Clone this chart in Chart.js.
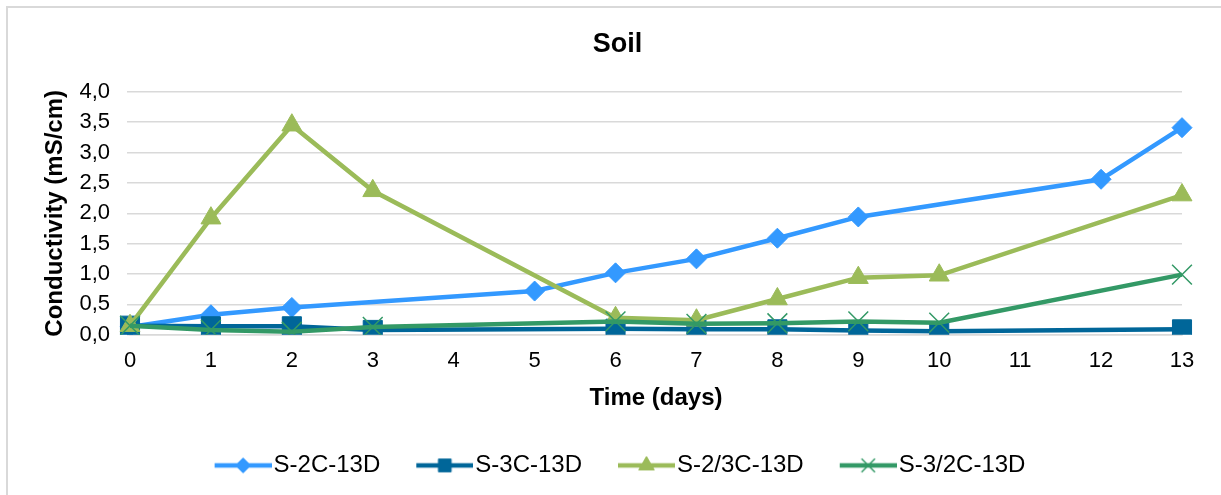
<!DOCTYPE html>
<html>
<head>
<meta charset="utf-8">
<title>Soil</title>
<script src="https://cdn.jsdelivr.net/npm/chart.js@4/dist/chart.umd.min.js"></script>
<style>
  html, body { margin: 0; padding: 0; background: #fff; overflow: hidden; }
  #frame { position: absolute; left: 6px; top: 6px; width: 1240px; height: 520px; border: 2px solid #d9d9d9; }
  #chart { position: absolute; left: 0; top: 0; display: block; }
</style>
</head>
<body>
<div id="frame"></div>
<canvas id="chart" width="1221" height="495"></canvas>
<script>
// Sampling days (category axis)
const days = ['0', '1', '2', '3', '4', '5', '6', '7', '8', '9', '10', '11', '12', '13'];

// Conductivity readings (mS/cm); null = not measured that day
const s2c  = [0.13, 0.33, 0.45, null, null, 0.72, 1.02, 1.25, 1.59, 1.94, null, null, 2.56, 3.41];
const s3c  = [0.15, 0.14, 0.14, 0.08, null, null, 0.10, 0.09, 0.09, 0.07, 0.06, null, null, 0.09];
const s23c = [0.15, 1.92, 3.45, 2.37, null, null, 0.28, 0.24, 0.59, 0.94, 0.98, null, null, 2.30];
const s32c = [0.15, 0.08, 0.05, 0.13, null, null, 0.22, 0.18, 0.19, 0.22, 0.20, null, null, 0.99];

const seriesNames = ['S-2C-13D', 'S-3C-13D', 'S-2/3C-13D', 'S-3/2C-13D'];
const yTickLabels = ['0,0', '0,5', '1,0', '1,5', '2,0', '2,5', '3,0', '3,5', '4,0'];

const FONT = "'Liberation Sans', Arial, sans-serif";
const GRID = '#d9d9d9';

const styles = [
  { color: '#3399FF', point: 'rectRot',  radius: 10,   lw: 1,   legendR: 7.5 },
  { color: '#006699', point: 'rect',     radius: 13.5, lw: 1,   legendR: 9 },
  { color: '#9BBB59', point: 'triangle', radius: 11.5, lw: 1,   legendR: 9 },
  { color: '#339966', point: 'crossRot', radius: 14,   lw: 1.5, legendR: 9.5 }
];

// Legend symbol: a short line with the series marker in its middle,
// drawn in the right part of the canvas so it sits just before the text
const SWATCH_BOX = 73;
function makeSwatch(st) {
  const c = document.createElement('canvas');
  c.width = SWATCH_BOX + 20; c.height = 24;
  const ctx = c.getContext('2d');
  const y = 12, x1 = c.width, x0 = x1 - 57;
  ctx.strokeStyle = st.color;
  ctx.fillStyle = st.color;
  ctx.lineWidth = 4.5;
  ctx.beginPath(); ctx.moveTo(x0, y); ctx.lineTo(x1, y); ctx.stroke();
  ctx.lineWidth = st.lw;
  Chart.helpers.drawPoint(ctx, {
    pointStyle: st.point, radius: st.legendR, rotation: 0, borderWidth: st.lw
  }, (x0 + x1) / 2, y);
  return c;
}

const allSeries = [s2c, s3c, s23c, s32c];
const datasets = allSeries.map((vals, i) => ({
  label: seriesNames[i],
  data: vals,
  borderColor: styles[i].color,
  backgroundColor: styles[i].color,
  borderWidth: 4.5,
  pointStyle: styles[i].point,
  pointRadius: styles[i].radius,
  pointBorderWidth: styles[i].lw,
  pointBackgroundColor: styles[i].color,
  pointBorderColor: styles[i].color,
  spanGaps: true,
  tension: 0,
  order: 4 - i
}));

const legendIcons = styles.map(makeSwatch);

// The swatch's blank left part is counted in the legend row width,
// so nudge the legend box left to centre what is actually visible.
const legendNudge = {
  id: 'legendNudge',
  afterLayout(chart) {
    const lg = chart.legend;
    if (lg) { lg.left -= 10.5; lg.right -= 10.5; }
  }
};

new Chart(document.getElementById('chart'), {
  type: 'line',
  data: { labels: days, datasets: datasets },
  plugins: [legendNudge],
  options: {
    responsive: false,
    animation: false,
    events: [],
    layout: { padding: { left: 41, right: 27, top: 0, bottom: 7.6 } },
    plugins: {
      tooltip: { enabled: false },
      title: {
        display: true,
        text: 'Soil',
        color: '#000',
        font: { family: FONT, size: 27, weight: 'bold' },
        padding: { top: 28.4, bottom: 31 }
      },
      legend: {
        display: true,
        position: 'bottom',
        labels: {
          color: '#000',
          font: { family: FONT, size: 24 },
          usePointStyle: true,
          pointStyleWidth: SWATCH_BOX,
          padding: 10,
          generateLabels: (chart) => chart.data.datasets.map((ds, i) => ({
            text: ds.label,
            pointStyle: legendIcons[i],
            fillStyle: ds.borderColor,
            strokeStyle: ds.borderColor,
            lineWidth: 0,
            hidden: false,
            datasetIndex: i,
            fontColor: '#000'
          }))
        }
      }
    },
    scales: {
      x: {
        offset: false,
        grid: { display: false, drawTicks: false },
        border: { display: true, color: GRID, width: 1.5 },
        ticks: { color: '#000', font: { family: FONT, size: 22 }, padding: 13, maxRotation: 0, autoSkip: false },
        title: {
          display: true,
          text: 'Time (days)',
          color: '#000',
          font: { family: FONT, size: 24, weight: 'bold' },
          padding: { top: 0, bottom: 30.2 }
        },
        afterFit: (s) => { s.height = 108.6; }
      },
      y: {
        min: 0,
        max: 4,
        grid: { color: GRID, lineWidth: 1.5, drawTicks: true, tickLength: 3, tickColor: GRID },
        border: { display: false },
        ticks: {
          stepSize: 0.5,
          color: '#000',
          font: { family: FONT, size: 22 },
          padding: 17,
          callback: (v, i) => yTickLabels[i]
        },
        title: {
          display: true,
          text: 'Conductivity (mS/cm)',
          color: '#000',
          font: { family: FONT, size: 24, weight: 'bold' },
          padding: { top: 0, bottom: 0 }
        },
        afterFit: (s) => { s.width = 89; }
      },
      // empty right-hand margin so the plot ends short of the frame edge
      rightMargin: {
        type: 'linear',
        position: 'right',
        display: true,
        grid: { display: false },
        border: { display: false },
        ticks: { display: false },
        afterFit: (s) => { s.width = 12; }
      }
    }
  }
});
</script>
</body>
</html>
